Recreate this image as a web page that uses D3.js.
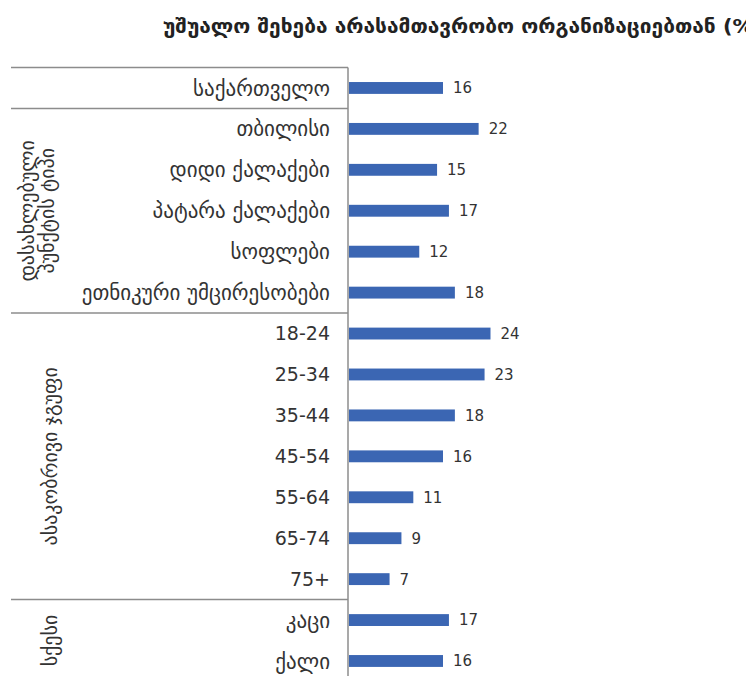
<!DOCTYPE html>
<html>
<head>
<meta charset="utf-8">
<script src="https://cdn.jsdelivr.net/npm/d3@7"></script>
<style>
  body { margin: 0; background: #fff; }
  svg { display: block; font-family: "DejaVu Sans", sans-serif; }
</style>
</head>
<body>
<div id="chart"></div>
<script>
const WIDTH = 746
const HEIGHT = 676

const TITLE = 'უშუალო შეხება არასამთავრობო ორგანიზაციებთან (%)'

const categories = [
  'საქართველო',
  'თბილისი', 'დიდი ქალაქები', 'პატარა ქალაქები', 'სოფლები', 'ეთნიკური უმცირესობები',
  '18-24', '25-34', '35-44', '45-54', '55-64', '65-74', '75+',
  'კაცი', 'ქალი'
]
const values = [16, 22, 15, 17, 12, 18, 24, 23, 18, 16, 11, 9, 7, 17, 16]

// groups: label lines, first and last category index
const groups = [
  { lines: ['დასახლებული', 'პუნქტის ტიპი'], from: 1, to: 5 },
  { lines: ['ასაკობრივი ჯგუფი'], from: 6, to: 12 },
  { lines: ['სქესი'], from: 13, to: 14 }
]

const svg = d3.select('#chart').append('svg')
  .attr('width', WIDTH)
  .attr('height', HEIGHT)

const axisX = 348
const step = 40.93
const topY = 67.5

const y = d3.scaleBand()
  .domain(categories)
  .range([topY, topY + step * categories.length])
  .paddingInner(0.71)
  .paddingOuter(0.355)

const x = d3.scaleLinear()
  .domain([0, 24])
  .range([axisX, axisX + 142.5])

// age bands are plain digits, the rest is georgian script which renders smaller
const isDigits = s => /^[0-9+\-]+$/.test(s)

svg.append('text')
  .attr('x', 163)
  .attr('y', 33)
  .attr('font-size', 20)
  .attr('font-weight', 'bold')
  .attr('fill', '#222')
  .attr('textLength', 600)
  .attr('lengthAdjust', 'spacingAndGlyphs')
  .text(TITLE)

// separators between groups
const seps = [0, 1, 6, 13].map(i => topY + step * i)
svg.selectAll('line.sep')
  .data(seps)
  .join('line')
  .attr('class', 'sep')
  .attr('x1', 11).attr('x2', axisX)
  .attr('y1', d => d).attr('y2', d => d)
  .attr('stroke', '#8c8c8c')
  .attr('stroke-width', 1.5)

svg.append('line')
  .attr('x1', axisX).attr('x2', axisX)
  .attr('y1', topY).attr('y2', HEIGHT)
  .attr('stroke', '#8c8c8c')
  .attr('stroke-width', 1.5)

svg.selectAll('rect.bar')
  .data(values)
  .join('rect')
  .attr('class', 'bar')
  .attr('x', x(0) + 1)
  .attr('y', (d, i) => y(categories[i]))
  .attr('width', d => x(d) - x(0) - 1)
  .attr('height', y.bandwidth())
  .attr('fill', '#3b66b3')

svg.selectAll('text.val')
  .data(values)
  .join('text')
  .attr('class', 'val')
  .attr('x', d => x(d) + 10)
  .attr('y', (d, i) => y(categories[i]) + y.bandwidth() / 2)
  .attr('dy', '0.36em')
  .attr('font-size', 15)
  .attr('fill', '#333')
  .text(d => d)

svg.selectAll('text.cat')
  .data(categories)
  .join('text')
  .attr('class', 'cat')
  .attr('x', 330)
  .attr('y', d => y(d) + y.bandwidth() / 2)
  .attr('dy', '0.36em')
  .attr('text-anchor', 'end')
  .attr('font-size', d => isDigits(d) ? 19 : 21)
  .attr('fill', '#333')
  .text(d => d)

groups.forEach(g => {
  const cy = (topY + step * g.from + topY + step * (g.to + 1)) / 2
  const n = g.lines.length
  g.lines.forEach((line, k) => {
    const cx = n === 1 ? 50 : 27 + k * 20
    svg.append('text')
      .attr('transform', `translate(${cx},${cy}) rotate(-90)`)
      .attr('text-anchor', 'middle')
      .attr('dy', '0.36em')
      .attr('font-size', 20)
      .attr('fill', '#333')
      .text(line)
  })
})
</script>
</body>
</html>
